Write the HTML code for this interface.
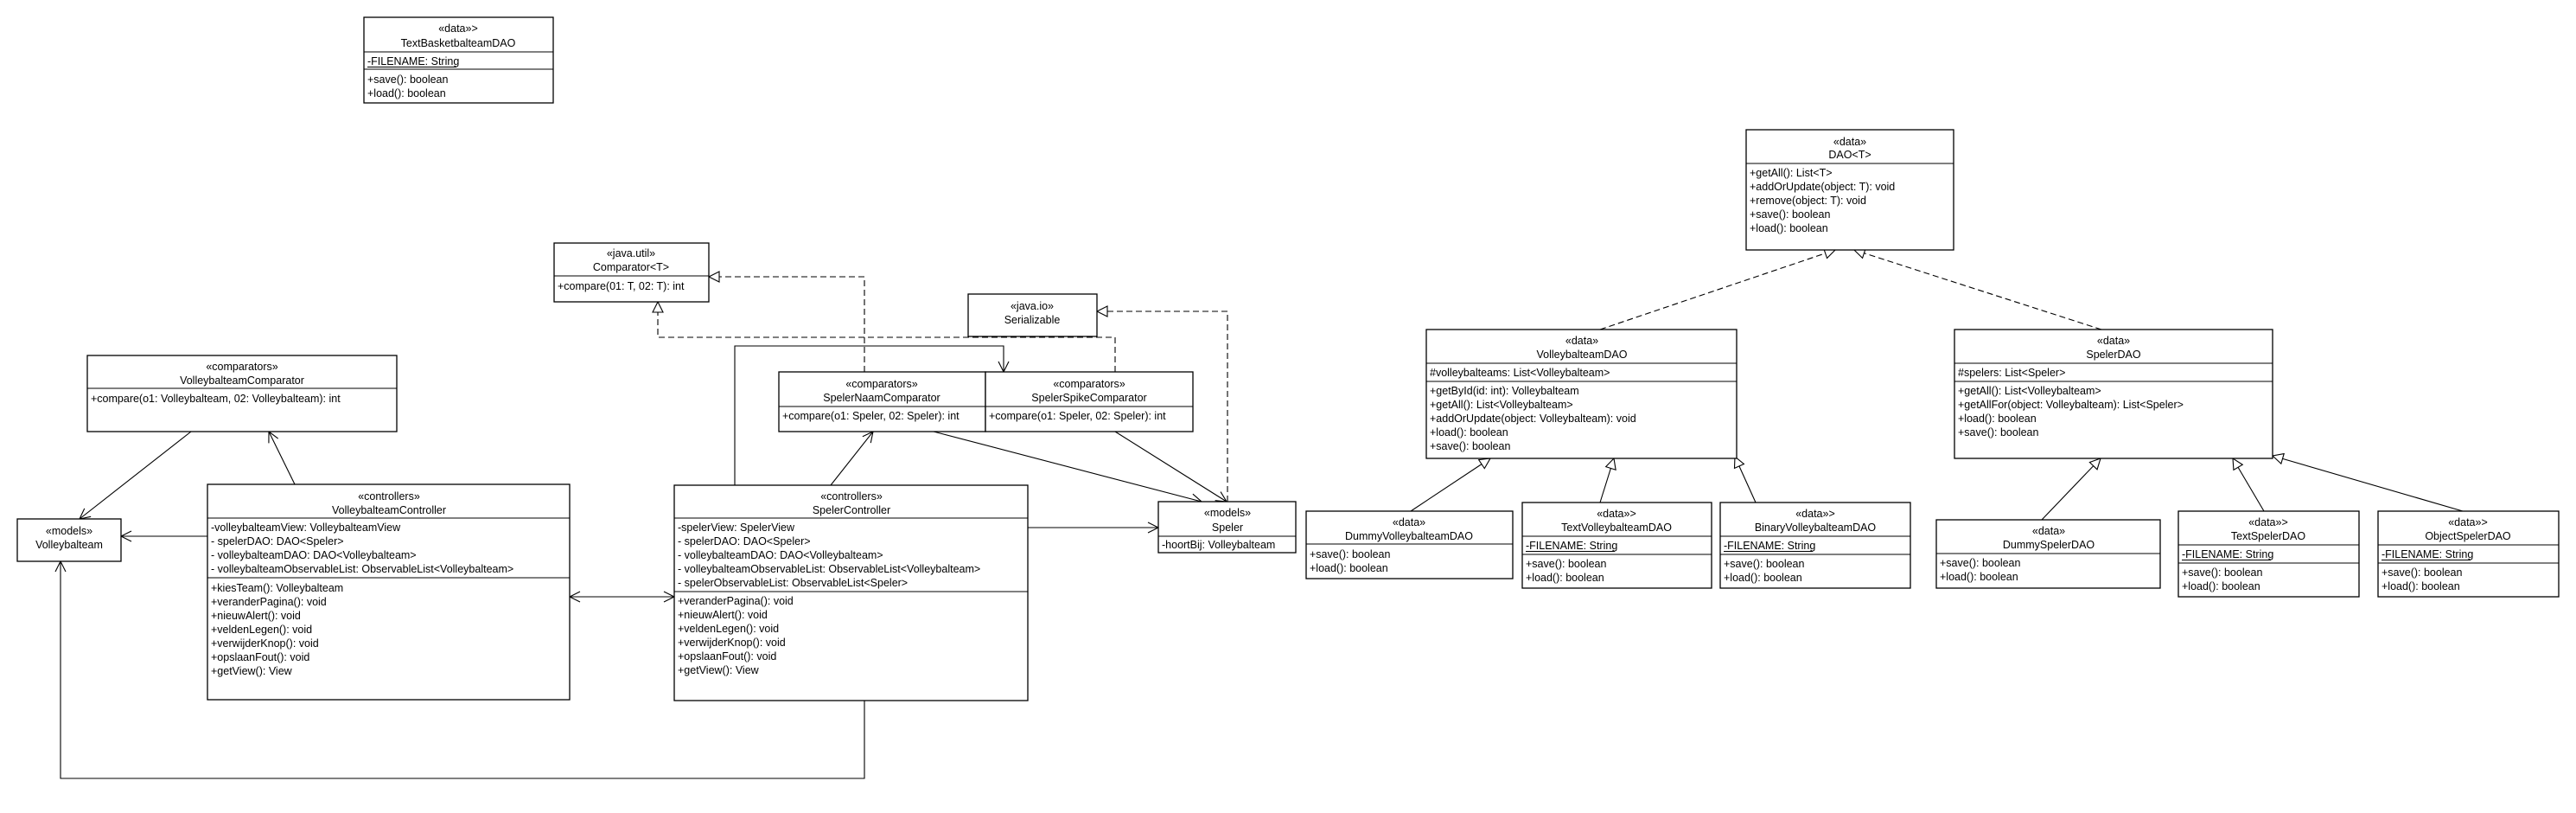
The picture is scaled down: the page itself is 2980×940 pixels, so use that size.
<!DOCTYPE html>
<html><head><meta charset="utf-8"><style>
html,body{margin:0;padding:0;background:#fff;}
svg{display:block;}
text{font-family:"Liberation Sans",Arial,sans-serif;font-size:12.5px;fill:#000;dominant-baseline:central;}
.c{text-anchor:middle;}
.b{fill:#fff;stroke:#000;stroke-width:1.3;}
.l{stroke:#000;stroke-width:1.1;fill:none;}
.ul{stroke:#000;stroke-width:1;fill:none;}
.d{stroke:#000;stroke-width:1.1;fill:none;stroke-dasharray:7,4;}
</style></head><body>
<svg width="2980" height="940" viewBox="0 0 2980 940" xmlns="http://www.w3.org/2000/svg">
<defs>
<marker id="o" markerUnits="userSpaceOnUse" markerWidth="16" markerHeight="16" refX="13" refY="8" orient="auto-start-reverse"><path d="M1,2 L13,8 L1,14" fill="none" stroke="#000" stroke-width="1.1"/></marker>
<marker id="t" markerUnits="userSpaceOnUse" markerWidth="16" markerHeight="16" refX="14" refY="8" orient="auto"><path d="M2,2 L14,8 L2,14 Z" fill="#fff" stroke="#000" stroke-width="1.1"/></marker>
</defs>

<!-- connectors -->
<line class="l" x1="221" y1="499" x2="92" y2="600" marker-end="url(#o)"/>
<line class="l" x1="341" y1="560" x2="311" y2="499" marker-end="url(#o)"/>
<line class="l" x1="240" y1="620" x2="140" y2="620" marker-end="url(#o)"/>
<line class="l" x1="659" y1="690" x2="780" y2="690" marker-start="url(#o)" marker-end="url(#o)"/>
<polyline class="l" points="1000,810 1000,900 70,900 70,649" marker-end="url(#o)"/>
<polyline class="l" points="850,561 850,400 1161,400 1161,430" marker-end="url(#o)"/>
<line class="l" x1="961" y1="561" x2="1010" y2="499" marker-end="url(#o)"/>
<line class="l" x1="1080" y1="499" x2="1390" y2="580" marker-end="url(#o)"/>
<line class="l" x1="1290" y1="499" x2="1419" y2="580" marker-end="url(#o)"/>
<line class="l" x1="1189" y1="610" x2="1340" y2="610" marker-end="url(#o)"/>
<polyline class="d" points="1000,430 1000,320 820,320" marker-end="url(#t)"/>
<polyline class="d" points="1290,430 1290,390 761,390 761,349" marker-end="url(#t)"/>
<polyline class="d" points="1420,580 1420,360 1269,360" marker-end="url(#t)"/>
<line class="d" x1="1851" y1="381" x2="2123" y2="289" marker-end="url(#t)"/>
<line class="d" x1="2431" y1="381" x2="2145" y2="289" marker-end="url(#t)"/>
<line class="l" x1="1632" y1="591" x2="1724" y2="530" marker-end="url(#t)"/>
<line class="l" x1="1851" y1="581" x2="1867" y2="530" marker-end="url(#t)"/>
<line class="l" x1="2031" y1="581" x2="2007" y2="528" marker-end="url(#t)"/>
<line class="l" x1="2362" y1="601" x2="2430" y2="530" marker-end="url(#t)"/>
<line class="l" x1="2619" y1="591" x2="2583" y2="530" marker-end="url(#t)"/>
<line class="l" x1="2849" y1="591" x2="2629" y2="527" marker-end="url(#t)"/>

<!-- TextBasketbalteamDAO -->
<rect class="b" x="421" y="20" width="219" height="99"/>
<line class="l" x1="421" y1="60" x2="640" y2="60"/><line class="l" x1="421" y1="80" x2="640" y2="80"/>
<text class="c" x="530" y="33">«data»&gt;</text><text class="c" x="530" y="50">TextBasketbalteamDAO</text>
<text x="425" y="71">-FILENAME: String</text><line class="ul" x1="425" y1="77.5" x2="528" y2="77.5"/>
<text x="425" y="92">+save(): boolean</text><text x="425" y="108">+load(): boolean</text>

<!-- Comparator<T> -->
<rect class="b" x="641" y="281" width="179" height="68"/>
<line class="l" x1="641" y1="319" x2="820" y2="319"/>
<text class="c" x="730" y="293">«java.util»</text><text class="c" x="730" y="309">Comparator&lt;T&gt;</text>
<text x="645" y="331">+compare(01: T, 02: T): int</text>

<!-- Serializable -->
<rect class="b" x="1120" y="340" width="149" height="49"/>
<text class="c" x="1194" y="354">«java.io»</text><text class="c" x="1194" y="370">Serializable</text>

<!-- VolleybalteamComparator -->
<rect class="b" x="101" y="411" width="358" height="88"/>
<line class="l" x1="101" y1="449" x2="459" y2="449"/>
<text class="c" x="280" y="424">«comparators»</text><text class="c" x="280" y="440">VolleybalteamComparator</text>
<text x="105" y="461">+compare(o1: Volleybalteam, 02: Volleybalteam): int</text>

<!-- SpelerNaamComparator -->
<rect class="b" x="901" y="430" width="239" height="69"/>
<line class="l" x1="901" y1="470" x2="1140" y2="470"/>
<text class="c" x="1020" y="444">«comparators»</text><text class="c" x="1020" y="460">SpelerNaamComparator</text>
<text x="905" y="481">+compare(o1: Speler, 02: Speler): int</text>

<!-- SpelerSpikeComparator -->
<rect class="b" x="1140" y="430" width="240" height="69"/>
<line class="l" x1="1140" y1="470" x2="1380" y2="470"/>
<text class="c" x="1260" y="444">«comparators»</text><text class="c" x="1260" y="460">SpelerSpikeComparator</text>
<text x="1144" y="481">+compare(o1: Speler, 02: Speler): int</text>

<!-- Volleybalteam -->
<rect class="b" x="20" y="600" width="120" height="49"/>
<text class="c" x="80" y="614">«models»</text><text class="c" x="80" y="630">Volleybalteam</text>

<!-- VolleybalteamController -->
<rect class="b" x="240" y="560" width="419" height="249"/>
<line class="l" x1="240" y1="599" x2="659" y2="599"/><line class="l" x1="240" y1="668" x2="659" y2="668"/>
<text class="c" x="450" y="574">«controllers»</text><text class="c" x="450" y="590">VolleybalteamController</text>
<text x="244" y="610">-volleybalteamView: VolleybalteamView</text>
<text x="244" y="626">- spelerDAO: DAO&lt;Speler&gt;</text>
<text x="244" y="642">- volleybalteamDAO: DAO&lt;Volleybalteam&gt;</text>
<text x="244" y="658">- volleybalteamObservableList: ObservableList&lt;Volleybalteam&gt;</text>
<text x="244" y="680">+kiesTeam(): Volleybalteam</text>
<text x="244" y="696">+veranderPagina(): void</text>
<text x="244" y="712">+nieuwAlert(): void</text>
<text x="244" y="728">+veldenLegen(): void</text>
<text x="244" y="744">+verwijderKnop(): void</text>
<text x="244" y="760">+opslaanFout(): void</text>
<text x="244" y="776">+getView(): View</text>

<!-- SpelerController -->
<rect class="b" x="780" y="561" width="409" height="249"/>
<line class="l" x1="780" y1="599" x2="1189" y2="599"/><line class="l" x1="780" y1="684" x2="1189" y2="684"/>
<text class="c" x="985" y="574">«controllers»</text><text class="c" x="985" y="590">SpelerController</text>
<text x="784" y="610">-spelerView: SpelerView</text>
<text x="784" y="626">- spelerDAO: DAO&lt;Speler&gt;</text>
<text x="784" y="642">- volleybalteamDAO: DAO&lt;Volleybalteam&gt;</text>
<text x="784" y="658">- volleybalteamObservableList: ObservableList&lt;Volleybalteam&gt;</text>
<text x="784" y="674">- spelerObservableList: ObservableList&lt;Speler&gt;</text>
<text x="784" y="695">+veranderPagina(): void</text>
<text x="784" y="711">+nieuwAlert(): void</text>
<text x="784" y="727">+veldenLegen(): void</text>
<text x="784" y="743">+verwijderKnop(): void</text>
<text x="784" y="759">+opslaanFout(): void</text>
<text x="784" y="775">+getView(): View</text>

<!-- Speler -->
<rect class="b" x="1340" y="580" width="159" height="59"/>
<line class="l" x1="1340" y1="620" x2="1499" y2="620"/>
<text class="c" x="1420" y="593">«models»</text><text class="c" x="1420" y="610">Speler</text>
<text x="1344" y="630">-hoortBij: Volleybalteam</text>

<!-- DAO<T> -->
<rect class="b" x="2020" y="150" width="240" height="139"/>
<line class="l" x1="2020" y1="189" x2="2260" y2="189"/>
<text class="c" x="2140" y="164">«data»</text><text class="c" x="2140" y="179">DAO&lt;T&gt;</text>
<text x="2024" y="200">+getAll(): List&lt;T&gt;</text>
<text x="2024" y="216">+addOrUpdate(object: T): void</text>
<text x="2024" y="232">+remove(object: T): void</text>
<text x="2024" y="248">+save(): boolean</text>
<text x="2024" y="264">+load(): boolean</text>

<!-- VolleybalteamDAO -->
<rect class="b" x="1650" y="381" width="359" height="149"/>
<line class="l" x1="1650" y1="420" x2="2009" y2="420"/><line class="l" x1="1650" y1="441" x2="2009" y2="441"/>
<text class="c" x="1830" y="394">«data»</text><text class="c" x="1830" y="410">VolleybalteamDAO</text>
<text x="1654" y="431">#volleybalteams: List&lt;Volleybalteam&gt;</text>
<text x="1654" y="452">+getById(id: int): Volleybalteam</text>
<text x="1654" y="468">+getAll(): List&lt;Volleybalteam&gt;</text>
<text x="1654" y="484">+addOrUpdate(object: Volleybalteam): void</text>
<text x="1654" y="500">+load(): boolean</text>
<text x="1654" y="516">+save(): boolean</text>

<!-- SpelerDAO -->
<rect class="b" x="2261" y="381" width="368" height="149"/>
<line class="l" x1="2261" y1="420" x2="2629" y2="420"/><line class="l" x1="2261" y1="441" x2="2629" y2="441"/>
<text class="c" x="2445" y="394">«data»</text><text class="c" x="2445" y="410">SpelerDAO</text>
<text x="2265" y="431">#spelers: List&lt;Speler&gt;</text>
<text x="2265" y="452">+getAll(): List&lt;Volleybalteam&gt;</text>
<text x="2265" y="468">+getAllFor(object: Volleybalteam): List&lt;Speler&gt;</text>
<text x="2265" y="484">+load(): boolean</text>
<text x="2265" y="500">+save(): boolean</text>

<!-- DummyVolleybalteamDAO -->
<rect class="b" x="1511" y="591" width="239" height="78"/>
<line class="l" x1="1511" y1="629" x2="1750" y2="629"/>
<text class="c" x="1630" y="604">«data»</text><text class="c" x="1630" y="620">DummyVolleybalteamDAO</text>
<text x="1515" y="641">+save(): boolean</text><text x="1515" y="657">+load(): boolean</text>

<!-- TextVolleybalteamDAO -->
<rect class="b" x="1761" y="581" width="219" height="99"/>
<line class="l" x1="1761" y1="620" x2="1980" y2="620"/><line class="l" x1="1761" y1="641" x2="1980" y2="641"/>
<text class="c" x="1870" y="594">«data»&gt;</text><text class="c" x="1870" y="610">TextVolleybalteamDAO</text>
<text x="1765" y="631">-FILENAME: String</text><line class="ul" x1="1765" y1="637.5" x2="1868" y2="637.5"/>
<text x="1765" y="652">+save(): boolean</text><text x="1765" y="668">+load(): boolean</text>

<!-- BinaryVolleybalteamDAO -->
<rect class="b" x="1990" y="581" width="220" height="99"/>
<line class="l" x1="1990" y1="620" x2="2210" y2="620"/><line class="l" x1="1990" y1="641" x2="2210" y2="641"/>
<text class="c" x="2100" y="594">«data»&gt;</text><text class="c" x="2100" y="610">BinaryVolleybalteamDAO</text>
<text x="1994" y="631">-FILENAME: String</text><line class="ul" x1="1994" y1="637.5" x2="2097" y2="637.5"/>
<text x="1994" y="652">+save(): boolean</text><text x="1994" y="668">+load(): boolean</text>

<!-- DummySpelerDAO -->
<rect class="b" x="2240" y="601" width="259" height="79"/>
<line class="l" x1="2240" y1="640" x2="2499" y2="640"/>
<text class="c" x="2370" y="614">«data»</text><text class="c" x="2370" y="630">DummySpelerDAO</text>
<text x="2244" y="651">+save(): boolean</text><text x="2244" y="667">+load(): boolean</text>

<!-- TextSpelerDAO -->
<rect class="b" x="2520" y="591" width="209" height="99"/>
<line class="l" x1="2520" y1="630" x2="2729" y2="630"/><line class="l" x1="2520" y1="651" x2="2729" y2="651"/>
<text class="c" x="2624" y="604">«data»&gt;</text><text class="c" x="2624" y="620">TextSpelerDAO</text>
<text x="2524" y="641">-FILENAME: String</text><line class="ul" x1="2524" y1="647.5" x2="2627" y2="647.5"/>
<text x="2524" y="662">+save(): boolean</text><text x="2524" y="678">+load(): boolean</text>

<!-- ObjectSpelerDAO -->
<rect class="b" x="2751" y="591" width="209" height="99"/>
<line class="l" x1="2751" y1="630" x2="2960" y2="630"/><line class="l" x1="2751" y1="651" x2="2960" y2="651"/>
<text class="c" x="2855" y="604">«data»&gt;</text><text class="c" x="2855" y="620">ObjectSpelerDAO</text>
<text x="2755" y="641">-FILENAME: String</text><line class="ul" x1="2755" y1="647.5" x2="2858" y2="647.5"/>
<text x="2755" y="662">+save(): boolean</text><text x="2755" y="678">+load(): boolean</text>
</svg>
</body></html>
